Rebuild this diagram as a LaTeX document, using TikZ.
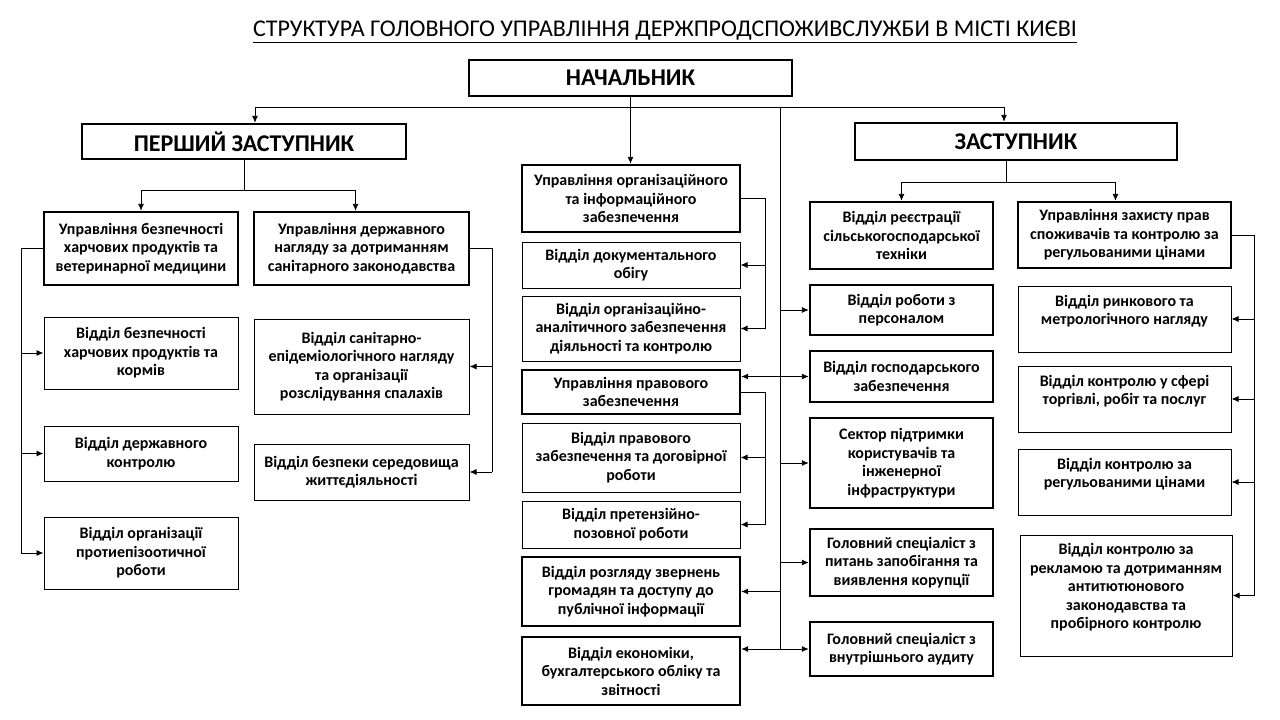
\documentclass[tikz,border=0pt]{standalone}
\usepackage{fontspec}
\setmainfont{Carlito}
\usetikzlibrary{arrows.meta}

\begin{document}
\begin{tikzpicture}[x=1pt, y=-1pt,
    box/.style={draw, line width=1pt, align=center, inner sep=0pt, font=\bfseries\fontsize{16}{18.5}\selectfont},
    thickbox/.style={box, line width=2.4pt},
    headbox/.style={thickbox, font=\bfseries\fontsize{24}{26}\selectfont},
    arr/.style={line width=0.9pt, -{Latex[length=7pt,width=6pt]}},
    dbl/.style={line width=0.9pt, {Latex[length=7pt,width=6pt]}-{Latex[length=7pt,width=6pt]}},
    bus/.style={line width=0.9pt}]
                \useasboundingbox (0,0) rectangle (1280,720);
                \node[font=\fontsize{24}{28}\selectfont] (title) at (665,32) {\underline{СТРУКТУРА ГОЛОВНОГО УПРАВЛІННЯ ДЕРЖПРОДСПОЖИВСЛУЖБИ В МІСТІ КИЄВІ}};
                % head and deputies
                \node[headbox, minimum width=323, minimum height=36] (nach) at (630.5,78) {НАЧАЛЬНИК};
                \node[headbox, minimum width=324, minimum height=35] (pz) at (244,141.5) {ПЕРШИЙ ЗАСТУПНИК};
                \node[headbox, minimum width=322, minimum height=37] (zast) at (1016,141.5) {ЗАСТУПНИК};
                % first deputy
                \node[thickbox, minimum width=194, minimum height=73] (L1) at (141,248.5) {Управління безпечності\\ харчових продуктів та\\ ветеринарної медицини};
                \node[thickbox, minimum width=215, minimum height=73] (L2) at (361.5,248.5) {Управління державного\\ нагляду за дотриманням\\ санітарного законодавства};
                \node[box, minimum width=194, minimum height=72] (L1a) at (141,353) {Відділ безпечності\\ харчових продуктів та\\ кормів};
                \node[box, minimum width=194, minimum height=55] (L1b) at (141,453.5) {Відділ державного\\ контролю};
                \node[box, minimum width=194, minimum height=72] (L1c) at (141,553) {Відділ організації\\ протиепізоотичної\\ роботи};
                \node[box, minimum width=215, minimum height=95] (L2a) at (361.5,366.5) {Відділ санітарно-\\ епідеміологічного нагляду\\ та організації\\ розслідування спалахів};
                \node[box, minimum width=215, minimum height=56] (L2b) at (361.5,472) {Відділ безпеки середовища\\ життєдіяльності};
                % middle column
                \node[thickbox, minimum width=218, minimum height=67] (M1) at (631,198.5) {Управління організаційного\\ та інформаційного\\ забезпечення};
                \node[box, minimum width=218, minimum height=46] (M1a) at (631,265) {Відділ документального\\ обігу};
                \node[box, minimum width=218, minimum height=65] (M1b) at (631,328.5) {Відділ організаційно-\\ аналітичного забезпечення\\ діяльності та контролю};
                \node[thickbox, minimum width=218, minimum height=44] (M2) at (631,392) {Управління правового\\ забезпечення};
                \node[box, minimum width=218, minimum height=69] (M2a) at (631,457.5) {Відділ правового\\ забезпечення та договірної\\ роботи};
                \node[box, minimum width=218, minimum height=47] (M2b) at (631,524.5) {Відділ претензійно-\\ позовної роботи};
                \node[thickbox, minimum width=218, minimum height=69] (M3) at (631,591.5) {Відділ розгляду звернень\\ громадян та доступу до\\ публічної інформації};
                \node[thickbox, minimum width=218, minimum height=68] (M4) at (631,671) {Відділ економіки,\\ бухгалтерського обліку та\\ звітності};
                % deputy
                \node[thickbox, minimum width=183, minimum height=67] (R0) at (901.5,235.5) {Відділ реєстрації\\ сільськогосподарської\\ техніки};
                \node[thickbox, minimum width=183, minimum height=50] (R1) at (901.5,310) {Відділ роботи з\\ персоналом};
                \node[thickbox, minimum width=183, minimum height=51] (R2) at (901.5,376.5) {Відділ господарського\\ забезпечення};
                \node[thickbox, minimum width=183, minimum height=90] (R3) at (901.5,463) {Сектор підтримки\\ користувачів та\\ інженерної\\ інфраструктури};
                \node[thickbox, minimum width=183, minimum height=67] (R4) at (901.5,562.5) {Головний спеціаліст з\\ питань запобігання та\\ виявлення корупції};
                \node[thickbox, minimum width=183, minimum height=54] (R5) at (901.5,649) {Головний спеціаліст з\\ внутрішнього аудиту};
                \node[thickbox, minimum width=213, minimum height=66] (Q0) at (1124.5,235) {Управління захисту прав\\ споживачів та контролю за\\ регульованими цінами};
                \node[box, minimum width=213, minimum height=66] (Q1) at (1124.5,319) {Відділ ринкового та\\ метрологічного нагляду\\ \mbox{}};
                \node[box, minimum width=213, minimum height=66] (Q2) at (1124.5,399) {Відділ контролю у сфері\\ торгівлі, робіт та послуг\\ \mbox{}};
                \node[box, minimum width=213, minimum height=66] (Q3) at (1124.5,482) {Відділ контролю за\\ регульованими цінами\\ \mbox{}};
                \node[box, minimum width=212, minimum height=121] (Q4) at (1126,595.5) {Відділ контролю за\\ рекламою та дотриманням\\ антитютюнового\\ законодавства та\\ пробірного контролю\\ \mbox{}};
                % connectors
                \coordinate (bus) at (630.5,107);
                \coordinate (trunk) at (780,107);
                \draw[arr] (nach.south) -- (nach.south |- M1.north);
                \draw[arr] (bus) -| ([xshift=11]pz.north);
                \draw[arr] (bus) -| ([xshift=-12]zast.north);
                \draw[bus] (trunk) -- (trunk |- R5.west);
                \foreach \n in {R1,R3,R4} \draw[arr] (trunk |- \n.west) -- (\n.west);
                \draw[arr] (trunk |- M3.east) -- (M3.east);
                \draw[dbl] (M2.east |- R2.west) -- (R2.west);
                \draw[dbl] (M4.east |- R5.west) -- (R5.west);
                \coordinate (pzbus) at (244,190);
                \draw[bus] (pz.south) -- (pzbus);
                \draw[arr] (pzbus) -| (L1.north);
                \draw[arr] (pzbus) -| ([xshift=-6]L2.north);
                \coordinate (lbus) at (21,0);
                \draw[bus] (L1.west) -| (lbus |- L1c.west);
                \foreach \n in {L1a,L1b,L1c} \draw[arr] (lbus |- \n.west) -- (\n.west);
                \coordinate (rbus) at (492,0);
                \draw[bus] (L2.east) -| (rbus |- L2b.east);
                \foreach \n in {L2a,L2b} \draw[arr] (rbus |- \n.east) -- (\n.east);
                \coordinate (mbus) at (765,0);
                \draw[bus] (M1.east) -| (mbus |- M1b.east);
                \draw[bus] (M2.east) -| (mbus |- M2b.east);
                \foreach \n in {M1a,M1b,M2a,M2b} \draw[arr] (mbus |- \n.east) -- (\n.east);
                \coordinate (zbus) at (1006,182);
                \draw[bus] ([xshift=-10]zast.south) -- (zbus);
                \draw[arr] (zbus) -| (R0.north);
                \draw[arr] (zbus) -| ([xshift=-9]Q0.north);
                \coordinate (qbus) at (1254,0);
                \draw[bus] (Q0.east) -| (qbus |- Q4.east);
                \foreach \n in {Q1,Q2,Q3,Q4} \draw[arr] (qbus |- \n.east) -- (\n.east);
            \end{tikzpicture}
\end{document}
